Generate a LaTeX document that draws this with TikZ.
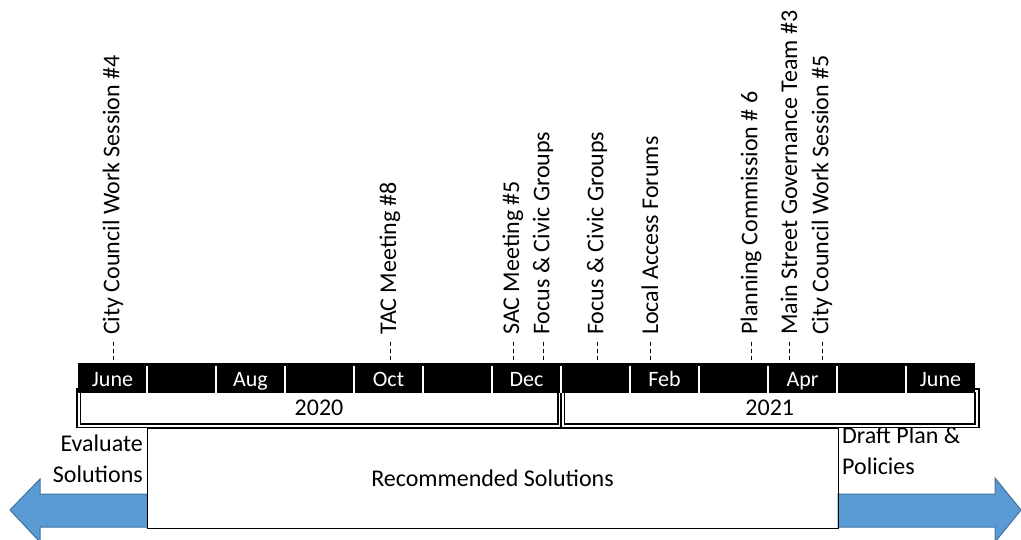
\documentclass[tikz,border=0pt]{standalone}
\usepackage{fontspec}
\setmainfont{Carlito}
\usetikzlibrary{positioning}
\definecolor{arrowblue}{HTML}{5B9BD5}
\definecolor{arrowedge}{HTML}{41719C}

\tikzset{
  lbl/.style={font=\fontsize{24}{29}\selectfont, inner sep=0pt},
  evlabel/.style={lbl, rotate=90, anchor=west},
  evline/.style={line width=0.8pt, dash pattern=on 4pt off 3pt, shorten <=7pt, shorten >=1pt},
  monthlbl/.style={font=\fontsize{22}{26}\selectfont, inner sep=0pt, text=white, anchor=base},
  yearbox/.style={lbl, draw, double, line width=1.6pt, double distance=2pt, fill=white},
  phase/.style={fill=arrowblue, draw=arrowedge, line width=1pt}
}

\begin{document}
\begin{tikzpicture}[x=1pt, y=-1pt]
        \useasboundingbox (0,0) rectangle (1021,540);
        \clip (0,0) rectangle (1021,540);

        % phase arrows
        \filldraw [phase] (10,510) -- (40,479) -- (40,494) -- (147,494)
                -- (147,527) -- (40,527) -- (40,542) -- cycle;
        \filldraw [phase] (838,494) -- (995,494) -- (995,478) -- (1021,510)
                -- (995,542) -- (995,527) -- (838,527) -- cycle;

        % phases
        \node [lbl, draw, thin, minimum width=691pt, minimum height=100pt] (rec) at (492.5,478) {Recommended Solutions};
        \node [lbl, anchor=base east] (eval1) at (143,451) {Evaluate};
        \node [lbl, anchor=base east] (eval2) at (143,482) {Solutions};
        \node [lbl, anchor=base west] (draft1) at (842,443) {Draft Plan \&};
        \node [lbl, anchor=base west] (draft2) at (842,474) {Policies};

        % years
        \node [yearbox, minimum width=481pt, minimum height=35pt] (y2020) at (319,408) {2020};
        \node [yearbox, minimum width=414.5pt, minimum height=35pt] (y2021) at (769.75,408) {2021};

        % months
        \node [fill=black, inner sep=0pt, minimum width=897pt, minimum height=30pt, anchor=north west] (bar) at (78,363) {};
        \foreach \k in {1,...,12}
                \draw [white, line width=2pt] (78+69*\k,366) -- (78+69*\k,393);
        \foreach \k/\m in {0/June, 2/Aug, 4/Oct, 6/Dec, 8/Feb, 10/Apr, 12/June}
                \node [monthlbl] (m\k) at (112.5+69*\k,386) {\m};

        % events
        \foreach \x/\t [count=\i] in {113/City Council Work Session \#4,
                        390/TAC Meeting \#8,
                        513/SAC Meeting \#5,
                        543/Focus \& Civic Groups,
                        597/Focus \& Civic Groups,
                        650/Local Access Forums,
                        751/Planning Commission \# 6,
                        789/Main Street Governance Team \#3,
                        822/City Council Work Session \#5} {
                \node [evlabel] (ev\i) at (\x,335) {\t};
                \draw [evline] (ev\i.west) -- (ev\i.west |- bar.north);
        }
\end{tikzpicture}
\end{document}
